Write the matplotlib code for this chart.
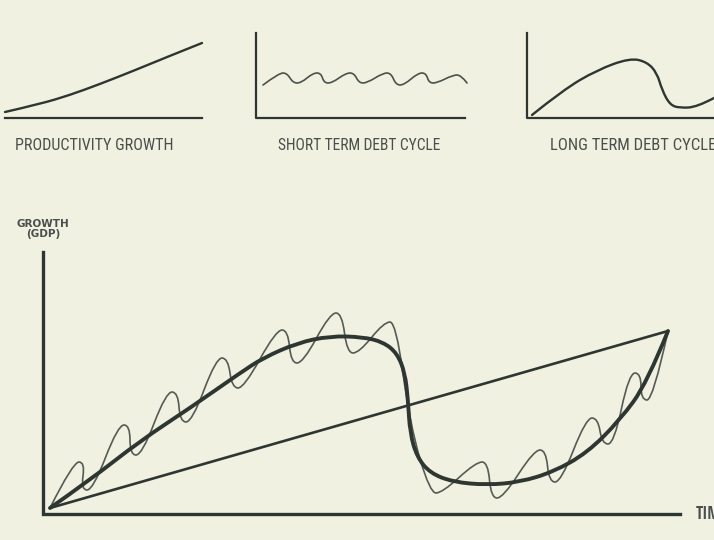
import matplotlib.pyplot as plt
from matplotlib.path import Path
from matplotlib.patches import PathPatch
from matplotlib import font_manager
from matplotlib.ft2font import FT2Font

# --- small panels along the top (pixel coordinates of the 714x540 picture) ---
prod_x = [5, 40, 70, 100, 133, 167, 202]
prod_y = [112, 104, 95, 84, 71, 57, 43]

short_x = [263, 283, 297, 317, 328, 350, 363, 387, 400, 422, 433, 457, 467]
short_y = [85, 73, 83, 73, 83, 73, 83, 73, 85, 73, 83, 75, 83]

mini_long_x = [532, 563, 597, 630, 647, 657, 662, 670, 680, 697, 714]
mini_long_y = [115, 90, 70, 58, 62, 73, 90, 105, 108, 107, 98]

titles = ['PRODUCTIVITY GROWTH', 'SHORT TERM DEBT CYCLE', 'LONG TERM DEBT CYCLE']
title_x = [15, 278, 550]
title_w = [160, 164, 168]

# --- main chart ---
trend_x = [50, 668]
trend_y = [508, 331]

long_x = [50, 90, 140, 190, 240, 263, 297, 330, 363, 383, 397, 405, 408,
          410, 417, 430, 453, 487, 520, 553, 587, 620, 647, 668]
long_y = [508, 480, 441, 408, 373, 358, 343, 336, 337, 342, 353, 373, 400,
          433, 457, 473, 482, 485, 482, 472, 453, 420, 383, 331]

# start, peaks / troughs of the short cycles (turn=1), one bend point (turn=0), end
wiggle_x = [50, 79, 87, 124, 136, 172, 186, 222, 238, 282, 297, 336, 353,
            390, 410, 436, 482, 497, 540, 555, 592, 608, 635, 647, 668]
wiggle_y = [508, 462, 490, 425, 455, 392, 422, 358, 388, 330, 363, 313, 353,
            322, 425, 493, 462, 498, 450, 482, 418, 444, 373, 400, 331]
wiggle_turn = [1, 1, 1, 1, 1, 1, 1, 1, 1, 1, 1, 1, 1,
               1, 0, 1, 1, 1, 1, 1, 1, 1, 1, 1, 1]

BG = '#f1f1e2'
INK = '#2d3630'
TEXT = '#4a4f4b'

FAMILIES = ('dejavu sans', 'liberation sans', 'noto sans', 'roboto',
            'open sans', 'lato', 'inter')
NEEDED = 'ABCDEFGHIJKLMNOPQRSTUVWXYZ()'


def has_glyphs(fname):
    try:
        ft = FT2Font(fname)
        return all(ft.get_char_index(ord(c)) != 0 for c in NEEDED)
    except Exception:
        return False


def narrowest_font(renderer, bold=False):
    # pick the most condensed installed sans face (the drawing uses a tall narrow font)
    best, best_w = None, None
    seen = set()
    for f in font_manager.fontManager.ttflist:
        name = f.name.lower()
        if f.fname in seen or f.style != 'normal':
            continue
        seen.add(f.fname)
        if not name.startswith(FAMILIES) or 'mono' in name or 'cjk' in name:
            continue
        w = f.weight if isinstance(f.weight, int) else 400
        if bold != (w >= 600) or w > 750 or w < 350:
            continue
        if not has_glyphs(f.fname):
            continue
        try:
            fp = font_manager.FontProperties(fname=f.fname, size=14)
            width = renderer.get_text_width_height_descent('PRODUCTIVITY GROWTH', fp, ismath=False)[0]
        except Exception:
            continue
        if best_w is None or width < best_w:
            best, best_w = f.fname, width
    return best


def split_extrema(xs, ys, d, turn=None):
    # each turning point becomes two flat control points
    if turn is None:
        turn = [1] * len(xs)
    px, py = [xs[0]], [ys[0]]
    for x, y, t in zip(xs[1:-1], ys[1:-1], turn[1:-1]):
        if t:
            px += [x - d, x + d]
            py += [y, y]
        else:
            px.append(x)
            py.append(y)
    px.append(xs[-1])
    py.append(ys[-1])
    return px, py


def smooth_path(xs, ys):
    pts = list(zip(xs, ys))
    verts = [pts[0]]
    codes = [Path.MOVETO]
    for i in range(1, len(pts) - 1):
        if i < len(pts) - 2:
            end = ((pts[i][0] + pts[i + 1][0]) / 2, (pts[i][1] + pts[i + 1][1]) / 2)
        else:
            end = pts[i + 1]
        verts += [pts[i], end]
        codes += [Path.CURVE3, Path.CURVE3]
    return Path(verts, codes)


def draw_curve(ax, xs, ys, lw, color, alpha=1.0):
    patch = PathPatch(smooth_path(xs, ys), fill=False, lw=lw, edgecolor=color,
                      alpha=alpha, capstyle='round', joinstyle='round')
    ax.add_patch(patch)


def font_props(fname, size, weight='normal'):
    if fname:
        return font_manager.FontProperties(fname=fname, size=size)
    return font_manager.FontProperties(family='DejaVu Sans', size=size, weight=weight)


fig = plt.figure(figsize=(7.14, 5.4), dpi=100, facecolor=BG)
ax = fig.add_axes([0, 0, 1, 1])
ax.set_facecolor(BG)
ax.set_xlim(0, 714)
ax.set_ylim(540, 0)
ax.axis('off')

renderer = fig.canvas.get_renderer()
reg_font = narrowest_font(renderer)
bold_font = narrowest_font(renderer, bold=True)

# top panels
ax.plot([5, 202], [118, 118], color=INK, lw=1.6)
draw_curve(ax, prod_x, prod_y, 1.7, INK)

ax.plot([256, 256, 465], [33, 118, 118], color=INK, lw=1.6)
sx, sy = split_extrema(short_x, short_y, 4)
draw_curve(ax, sx, sy, 1.2, INK, 0.85)

ax.plot([527, 527, 714], [33, 118, 118], color=INK, lw=1.6)
draw_curve(ax, mini_long_x, mini_long_y, 1.7, INK)

for t, x, w in zip(titles, title_x, title_w):
    fp = font_props(reg_font, 14)
    width = renderer.get_text_width_height_descent(t, fp, ismath=False)[0]
    size = min(14 * w / width, 14)
    ax.text(x, 145, t, ha='left', va='center', color=TEXT,
            fontproperties=font_props(reg_font, size))

# main chart axes
ax.plot([43, 43, 680], [252, 514, 514], color=INK, lw=2.4, solid_joinstyle='miter')
ax.text(43, 229, 'GROWTH\n(GDP)', ha='center', va='center', color=TEXT,
        fontsize=7.5, fontweight='bold', family='DejaVu Sans', linespacing=0.95)
ax.text(696, 514, 'TIME', ha='left', va='center', color=TEXT,
        fontproperties=font_props(bold_font, 12, 'bold'))

ax.plot(trend_x, trend_y, color=INK, lw=1.9, solid_capstyle='round')
draw_curve(ax, long_x, long_y, 2.8, INK)
wx, wy = split_extrema(wiggle_x, wiggle_y, 6, wiggle_turn)
draw_curve(ax, wx, wy, 1.2, INK, 0.8)

fig.savefig('out.png', dpi=100, facecolor=BG)
